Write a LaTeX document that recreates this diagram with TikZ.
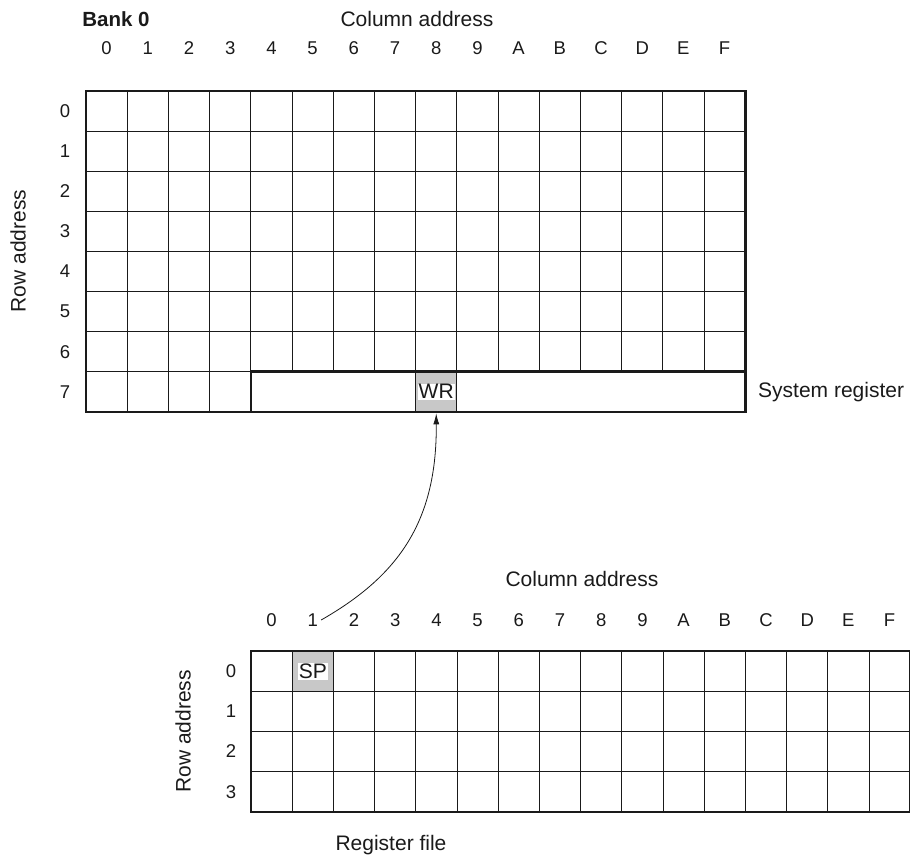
\documentclass[tikz,border=0pt]{standalone}
\usepackage{fontspec}
\setmainfont{Liberation Sans}
\usepackage{tikz}
\usepackage{xcolor}
\usetikzlibrary{arrows.meta,positioning}
\definecolor{regfill}{HTML}{C8C8C8}
\definecolor{ink}    {HTML}{1A1A1A}
\def\cw{41.2}
\def\rh{40.1}
\def\rhb{40.2}

\begin{document}
\begin{tikzpicture}[x=1pt,y=-1pt,
    lbl/.style={font=\fontsize{21}{24}\selectfont,text=ink,inner sep=0pt},
    idx/.style={font=\fontsize{18.5}{22}\selectfont,text=ink,inner sep=0pt},
    thin line/.style={draw=ink,line width=0.8pt},
    thick line/.style={draw=ink,line width=2.6pt},
    regname/.style={lbl,fill=white,inner sep=1pt}]
  \useasboundingbox (0,0) rectangle (910,858);
  \clip (0,0) rectangle (910,858);

  % bank 0 headings
  \node[lbl,font=\fontsize{20.5}{24}\selectfont\bfseries] (bank) at (116,19) {Bank 0};
  \node[lbl] (coltop) at (417,19) {Column address};
  \node[lbl,rotate=90] (rowtop) at (18,251) {Row address};
  \foreach \c [count=\i from 0] in {0,1,2,3,4,5,6,7,8,9,A,B,C,D,E,F}
    \node[idx] (tc\c) at ({86+(\i+0.5)*\cw},48) {\c};
  \foreach \r in {0,...,7}
    \node[idx] (tr\r) at (65,{91+(\r+0.5)*\rh}) {\r};

  % bank 0 grid
  \fill[regfill] ({86+8*\cw},{91+7*\rh}) rectangle ({86+9*\cw},{91+8*\rh});
  \foreach \r in {1,...,7}
    \draw[thin line] (86,{91+\r*\rh}) -- ({86+16*\cw},{91+\r*\rh});
  \foreach \i in {1,...,15}
    \draw[thin line] ({86+\i*\cw},91) -- ({86+\i*\cw},{91+7*\rh});
  \foreach \i in {1,2,3,8,9}
    \draw[thin line] ({86+\i*\cw},{91+7*\rh}) -- ({86+\i*\cw},{91+8*\rh});
  \draw[thick line] (86,91) rectangle ({86+16*\cw},{91+8*\rh});
  \draw[thick line] ({86+4*\cw},{91+7*\rh}) rectangle ({86+16*\cw},{91+8*\rh});
  \node[regname] (wr) at ({86+8.5*\cw},{91+7.5*\rh}) {WR};
  \coordinate (wrfoot) at ({86+8.5*\cw},{91+8*\rh+1.5});
  \node[lbl,anchor=west] (sysreg) at (758,{91+7.5*\rh}) {System register};

  % register file headings
  \node[lbl] (colbot) at (582,579) {Column address};
  \node[lbl,rotate=90] (rowbot) at (183,{651+2*\rhb}) {Row address};
  \foreach \c [count=\i from 0] in {0,1,2,3,4,5,6,7,8,9,A,B,C,D,E,F}
    \node[idx] (bc\c) at ({251+(\i+0.5)*\cw},620) {\c};
  \foreach \r in {0,...,3}
    \node[idx] (br\r) at (231,{651+(\r+0.5)*\rhb}) {\r};
  \node[lbl] (regfile) at (391,845) {Register file};

  % register file grid
  \fill[regfill] ({251+\cw},651) rectangle ({251+2*\cw},{651+\rhb});
  \foreach \r in {1,...,3}
    \draw[thin line] (251,{651+\r*\rhb}) -- ({251+16*\cw},{651+\r*\rhb});
  \foreach \i in {1,...,15}
    \draw[thin line] ({251+\i*\cw},651) -- ({251+\i*\cw},{651+4*\rhb});
  \draw[thick line] (251,651) rectangle ({251+16*\cw},{651+4*\rhb});
  \node[regname] (sp) at ({251+1.5*\cw},{651+0.5*\rhb}) {SP};

  % SP mapped onto WR
  \draw[thin line,-{Latex[length=11pt,width=6pt]}]
    ([xshift=3pt]bc1.east) .. controls (400,575) and (437,520) .. (wrfoot);
\end{tikzpicture}
\end{document}
